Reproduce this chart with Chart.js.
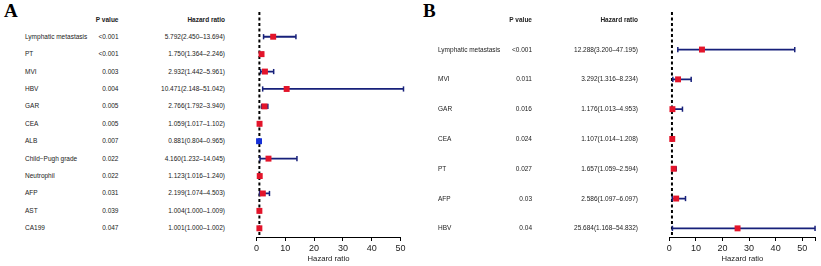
<!DOCTYPE html>
<html>
<head>
<meta charset="utf-8">
<script src="https://cdn.jsdelivr.net/npm/chart.js@4"></script>
<style>
  body { margin: 0; background: #fff; width: 821px; height: 266px; overflow: hidden; position: relative;
         font-family: "Liberation Sans", Arial, sans-serif; color: #222; }
  .t { position: absolute; font-size: 6.5px; line-height: 10px; white-space: nowrap; }
  .h { font-weight: bold; }
  .panel { position: absolute; font-family: "Liberation Serif", "Times New Roman", serif; font-weight: bold;
           font-size: 19px; line-height: 19px; color: #000; }
  canvas { position: absolute; top: 0; }
</style>
</head>
<body>
<div class="panel" style="left:4px;top:1px">A</div>
<div class="panel" style="left:423px;top:1px">B</div>
<canvas id="chartA" width="180" height="266" style="left:236px"></canvas>
<canvas id="chartB" width="171" height="266" style="left:650px"></canvas>
<script>
// panel A
const varsA = ["Lymphatic metastasis", "PT", "MVI", "HBV", "GAR", "CEA", "ALB",
  "Child\u2212Pugh grade", "Neutrophil", "AFP", "AST", "CA199"];
const pA = ["<0.001", "<0.001", "0.003", "0.004", "0.005", "0.005", "0.007",
  "0.022", "0.022", "0.031", "0.039", "0.047"];
const hrA = [5.792, 1.750, 2.932, 10.471, 2.766, 1.059, 0.881, 4.160, 1.123, 2.199, 1.004, 1.001];
const loA = [2.450, 1.364, 1.442, 2.148, 1.792, 1.017, 0.804, 1.232, 1.016, 1.074, 1.000, 1.000];
const hiA = [13.694, 2.246, 5.961, 51.042, 3.940, 1.102, 0.965, 14.045, 1.240, 4.503, 1.009, 1.002];
const ticksA = [0, 10, 20, 30, 40, 50];
const tickLabelsA = ["0", "10", "20", "30", "40", "50"];

// panel B
const varsB = ["Lymphatic metastasis", "MVI", "GAR", "CEA", "PT", "AFP", "HBV"];
const pB = ["<0.001", "0.011", "0.016", "0.024", "0.027", "0.03", "0.04"];
const hrB = [12.288, 3.292, 1.176, 1.107, 1.657, 2.586, 25.684];
const loB = [3.200, 1.316, 1.013, 1.014, 1.059, 1.097, 1.168];
const hiB = [47.195, 8.234, 4.953, 1.208, 2.594, 6.097, 54.832];
const ticksB = [0, 10, 20, 30, 40, 50, 55];
const tickLabelsB = ["0", "10", "20", "30", "40", "50", ""];

const font = "'Liberation Sans', Arial, sans-serif";
const RED = "#e3142a", BLUE = "#1530d8", NAVY = "#17207a";

function fmt(h, l, u) {
  return h.toFixed(3) + "(" + l.toFixed(3) + "\u2013" + u.toFixed(3) + ")";
}

function addText(txt, x, y, align, bold) {
  const d = document.createElement("div");
  d.className = "t" + (bold ? " h" : "");
  d.textContent = txt;
  d.style.top = (y - 5) + "px";
  if (align === "right") {
    d.style.left = (x - 200) + "px";
    d.style.width = "200px";
    d.style.textAlign = "right";
  } else {
    d.style.left = x + "px";
  }
  document.body.appendChild(d);
}

function forest(id, o) {
  const rows = o.hr.map((_, i) => i);
  const segs = [];
  const caps = [];
  rows.forEach(i => {
    segs.push({ x: o.lo[i], y: i }, { x: o.hi[i], y: i }, { x: o.hi[i], y: null });
    caps.push({ x: o.lo[i], y: i }, { x: o.hi[i], y: i });
  });
  return new Chart(document.getElementById(id), {
    type: "scatter",
    data: {
      datasets: [
        {
          data: rows.map(i => ({ x: o.hr[i], y: i })),
          pointStyle: "rect",
          pointRadius: 4.2,
          pointBackgroundColor: o.hr.map(v => v < 1 ? BLUE : RED),
          pointBorderWidth: 0,
          clip: false
        },
        {
          data: caps,
          pointStyle: "line",
          rotation: 90,
          pointRadius: 2.6,
          pointBorderColor: NAVY,
          pointBorderWidth: 1.5,
          clip: false
        },
        {
          data: segs,
          showLine: true,
          borderColor: NAVY,
          borderWidth: 1.8,
          pointRadius: 0,
          spanGaps: false,
          clip: false
        },
        {
          data: [{ x: 1, y: o.yMin }, { x: 1, y: o.yMax }],
          showLine: true,
          borderColor: "#000",
          borderWidth: 2,
          borderDash: [3, 2.5],
          pointRadius: 0
        }
      ]
    },
    options: {
      responsive: false,
      animation: false,
      events: [],
      layout: { padding: { left: o.padL, right: o.padR, top: 12, bottom: 0 } },
      plugins: { legend: { display: false }, tooltip: { enabled: false } },
      scales: {
        y: { type: "linear", display: false, reverse: true, min: o.yMin, max: o.yMax },
        x: {
          type: "linear",
          min: 0,
          max: o.xMax,
          afterBuildTicks: s => { s.ticks = o.ticks.map(v => ({ value: v })); },
          afterFit: s => { s.height = 29; },
          grid: { drawOnChartArea: false, drawTicks: true, tickLength: 4, color: "#000", lineWidth: 1 },
          border: { display: true, color: "#000", width: 1 },
          ticks: {
            color: "#222", padding: 2, maxRotation: 0, autoSkip: false,
            font: { family: font, size: 9 },
            callback: (v, i) => o.tickLabels[i]
          },
          title: {
            display: true, text: "Hazard ratio", color: "#222",
            font: { family: font, size: 7.7 }, padding: { top: 0, bottom: 2 }
          }
        }
      }
    }
  });
}

const chartA = forest("chartA", {
  hr: hrA, lo: loA, hi: hiA, yMin: -1.42, yMax: 11.5, xMax: 50,
  ticks: ticksA, tickLabels: tickLabelsA, padL: 20.5, padR: 15.5
});
const chartB = forest("chartB", {
  hr: hrB, lo: loB, hi: hiB, yMin: -1.26, yMax: 6.29, xMax: 55,
  ticks: ticksB, tickLabels: tickLabelsB, padL: 19.3, padR: 4.3
});

// table columns, rows placed at the chart's own row positions
function table(chart, vars, p, hr, lo, hi, xLab, xP, xHR) {
  const ys = chart.scales.y;
  addText("P value", xP, 20, "right", true);
  addText("Hazard ratio", xHR, 20, "right", true);
  vars.forEach((v, i) => {
    const y = ys.getPixelForValue(i);
    addText(v, xLab, y, "left", false);
    addText(p[i], xP, y, "right", false);
    addText(fmt(hr[i], lo[i], hi[i]), xHR, y, "right", false);
  });
}
table(chartA, varsA, pA, hrA, loA, hiA, 25, 118.5, 225);
table(chartB, varsB, pB, hrB, loB, hiB, 438, 532, 638);
</script>
</body>
</html>
